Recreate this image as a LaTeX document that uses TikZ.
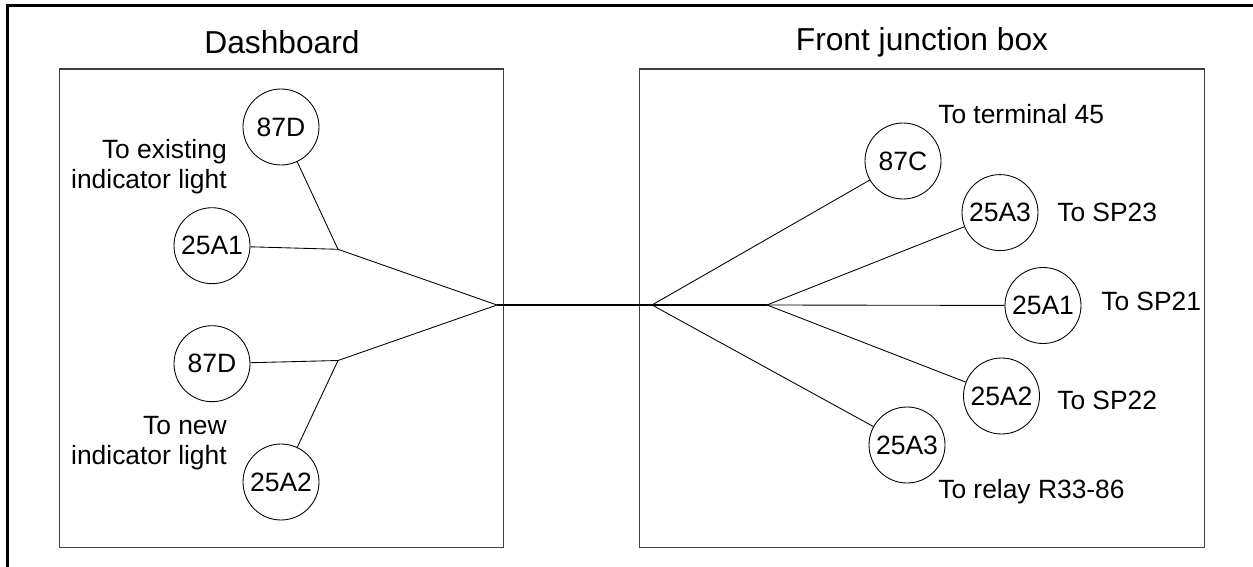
\documentclass[tikz,border=0pt]{standalone}
\usepackage{fontspec}
\setmainfont{Liberation Sans}
\tikzset{
  frameline/.style={line width=1.9pt,black},
  boxline/.style={line width=0.8pt,black!75},
  wire/.style={line width=0.65pt,black},
  term/.style={circle,draw=black,line width=0.65pt,fill=white,minimum size=57pt,inner sep=0pt,font=\fontsize{19.9}{22}\selectfont},
  lbl/.style={inner sep=0pt,font=\fontsize{19.8}{22.4}\selectfont},
  ttl/.style={inner sep=0pt,font=\fontsize{23.8}{28}\selectfont}
}
\begin{document}
\begin{tikzpicture}[x=0.75pt,y=-0.75pt]
\useasboundingbox (0,0) rectangle (1253,567);
\draw[frameline] (7.5,567) -- (7.5,5.5) -- (1253,5.5);
\node[draw,boxline,minimum width=333pt,minimum height=359pt,anchor=north west,inner sep=0pt] (dash) at (58.8,68.5) {};
\node[draw,boxline,minimum width=424.3pt,minimum height=359pt,anchor=north west,inner sep=0pt] (front) at (638.5,68.5) {};
\node[ttl,anchor=base] (tdash) at (282,54) {Dashboard};
\node[ttl,anchor=base] (tfront) at (922,50.5) {Front junction box};
% dashboard terminals
\node[term] (d1) at (281,127) {87D};
\node[term] (d2) at (212,245.7) {25A1};
\node[term] (d3) at (212,363.7) {87D};
\node[term] (d4) at (281,482) {25A2};
\coordinate (ju) at (338,249.3);
\coordinate (jl) at (338,360.5);
\coordinate (hl) at (497,305);
\coordinate (hr) at (652,305);
\coordinate (hm) at (767,305);
% front terminals
\node[term] (f1) at (903,161) {87C};
\node[term] (f2) at (1000,212.6) {25A3};
\node[term] (f3) at (1043,305.5) {25A1};
\node[term] (f4) at (1001.5,396) {25A2};
\node[term] (f5) at (907,445) {25A3};
% wires
\draw[wire] (d1) -- (ju);
\draw[wire] (d2) -- (ju);
\draw[wire] (ju) -- (hl);
\draw[wire] (d3) -- (jl);
\draw[wire] (d4) -- (jl);
\draw[wire] (jl) -- (hl);
\draw[wire,line width=1.1pt] (hl) -- (hr);
\draw[wire] (hr) -- (f1);
\draw[wire] (hr) -- (f5);
\draw[wire,line width=1pt] (hr) -- (hm);
\draw[wire] (hm) -- (f2);
\draw[wire] (hm) -- (f3);
\draw[wire] (hm) -- (f4);
% labels
\node[lbl,anchor=base east,align=right] (l1) at (227,188) {To existing\\indicator light};
\node[lbl,anchor=base east,align=right] (l2) at (227,464) {To new\\indicator light};
\node[lbl,anchor=base west] (l3) at (938,123.5) {To terminal 45};
\node[lbl,anchor=base west] (l4) at (1057,221) {To SP23};
\node[lbl,anchor=base west] (l5) at (1101,310) {To SP21};
\node[lbl,anchor=base west] (l6) at (1057,409) {To SP22};
\node[lbl,anchor=base west] (l7) at (938,498) {To relay R33-86};
\end{tikzpicture}
\end{document}
